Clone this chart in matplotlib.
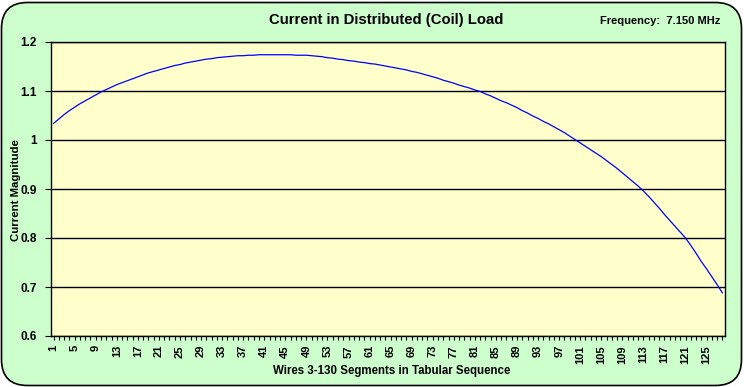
import matplotlib
matplotlib.use("Agg")
import matplotlib.pyplot as plt
from matplotlib.patches import FancyBboxPatch
import numpy as np

plt.rcParams['font.family'] = ['Liberation Sans', 'DejaVu Sans']

segments = list(range(1, 129))
current = [
    1.034, 1.043, 1.052, 1.060, 1.067, 1.074, 1.080, 1.086, 1.092, 1.098,
    1.103, 1.108, 1.113, 1.117, 1.121, 1.125, 1.129, 1.133, 1.137, 1.140,
    1.143, 1.146, 1.149, 1.152, 1.154, 1.157, 1.159, 1.161, 1.163, 1.165,
    1.166, 1.168, 1.169, 1.170, 1.171, 1.172, 1.172, 1.173, 1.173, 1.174,
    1.174, 1.174, 1.174, 1.174, 1.174, 1.174, 1.173, 1.173, 1.173, 1.172,
    1.171, 1.170, 1.168, 1.167, 1.165, 1.164, 1.162, 1.161, 1.159, 1.158,
    1.156, 1.155, 1.153, 1.151, 1.149, 1.147, 1.145, 1.143, 1.140, 1.138,
    1.135, 1.132, 1.129, 1.126, 1.122, 1.119, 1.116, 1.112, 1.109, 1.106,
    1.102, 1.099, 1.094, 1.090, 1.085, 1.080, 1.076, 1.071, 1.066, 1.060,
    1.055, 1.049, 1.044, 1.038, 1.033, 1.027, 1.021, 1.015, 1.008, 1.001,
    0.994, 0.987, 0.980, 0.973, 0.966, 0.958, 0.950, 0.942, 0.933, 0.924,
    0.915, 0.906, 0.896, 0.885, 0.873, 0.861, 0.848, 0.836, 0.824, 0.812,
    0.800, 0.785, 0.769, 0.752, 0.737, 0.721, 0.705, 0.688,
]
x_tick_labels = [str(i) for i in range(1, 129, 4)]
y_ticks = [0.6, 0.7, 0.8, 0.9, 1.0, 1.1, 1.2]
y_tick_labels = ["0.6", "0.7", "0.8", "0.9", "1", "1.1", "1.2"]

title = "Current in Distributed (Coil) Load"
freq_text = "Frequency:  7.150 MHz"
xlabel = "Wires 3-130 Segments in Tabular Sequence"
ylabel = "Current Magnitude"

W, H = 744, 387
fig = plt.figure(figsize=(W / 100, H / 100), dpi=100)
fig.patch.set_facecolor("white")

bg = FancyBboxPatch((1.5 / W, 1.5 / H), (W - 4) / W, (H - 4) / H,
                    boxstyle="round,pad=0,rounding_size=0.035",
                    transform=fig.transFigure, facecolor="#CCFFCC",
                    edgecolor="black", linewidth=1.2, mutation_aspect=W / H,
                    zorder=-10)
fig.patches.append(bg)

left, right, top, bottom = 51, 725, 42, 336
ax = fig.add_axes([left / W, 1 - bottom / H, (right - left) / W, (bottom - top) / H])
ax.set_zorder(1)
ax.set_facecolor("#FFFFCC")

ax.plot(segments, current, color="#0000FF", linewidth=0.9)

ax.set_xlim(0.5, 128.5)
ax.set_ylim(0.6, 1.2)
ax.set_yticks(y_ticks)
ax.set_yticklabels(y_tick_labels, fontsize=8.5, fontweight="bold")
ax.set_xticks(list(range(1, 129, 4)))
ax.set_xticklabels(x_tick_labels, rotation=90, fontsize=8, fontweight="bold")
ax.set_xticks(segments, minor=True)
ax.tick_params(axis="x", which="both", direction="out", length=3, width=0.8, colors="black")
ax.tick_params(axis="y", direction="out", length=4, width=0.8, pad=6)
ax.yaxis.grid(True, color="black", linewidth=1.0)
ax.set_axisbelow(True)
for s in ax.spines.values():
    s.set_color("black")
    s.set_linewidth(1.0)

fig.text(386 / W, 1 - 20 / H, title, ha="center", va="center",
         fontsize=10.7, fontweight="bold")
fig.text(660 / W, 1 - 21 / H, freq_text, ha="center", va="center",
         fontsize=8, fontweight="bold")
fig.text(392 / W, 1 - 371 / H, xlabel, ha="center", va="center",
         fontsize=8.3, fontweight="bold")
fig.text(16 / W, 1 - 190 / H, ylabel, ha="center", va="center",
         rotation=90, fontsize=8.2, fontweight="bold")

fig.savefig("out.png", dpi=100, facecolor=fig.get_facecolor())
